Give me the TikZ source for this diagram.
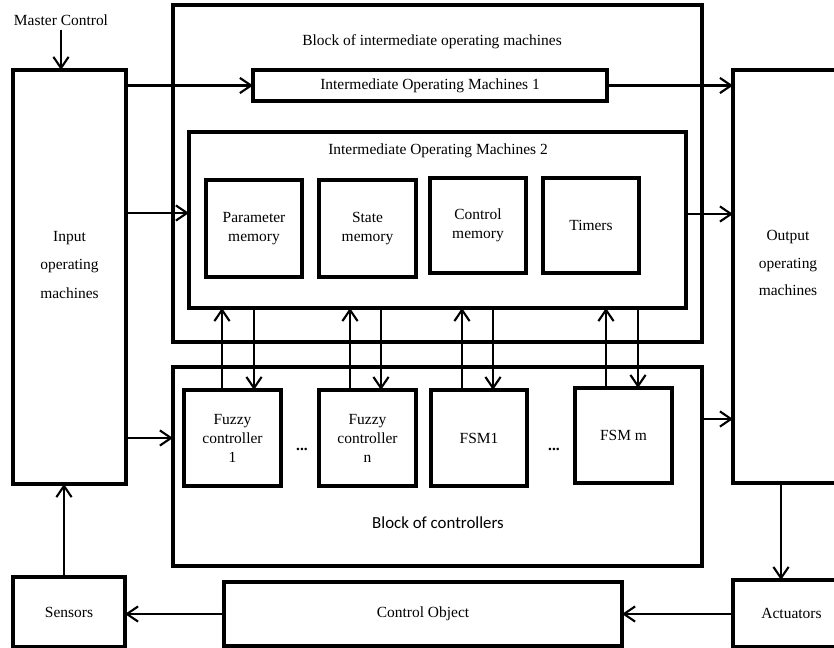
\documentclass[tikz,border=0pt]{standalone}
\usepackage{fontspec}
\setmainfont{Liberation Serif}
\newfontfamily\calib{Carlito}
\usepackage{tikz}
\usetikzlibrary{arrows.meta}

\begin{document}
\begin{tikzpicture}[x=0.025cm,y=-0.025cm,
  box/.style={draw,line width=2.4pt,inner sep=0pt,outer sep=0pt,align=center,font=\fontsize{11}{13.5}\selectfont},
  txt/.style={inner sep=0pt,align=center,font=\fontsize{11}{13.5}\selectfont},
  arr/.style={line width=1.5pt,-{Straight Barb[length=2.8mm,width=3.8mm,line width=1.5pt]}}]
\useasboundingbox (0,0) rectangle (834,648);

 \node[box,minimum width=2.825cm,minimum height=10.35cm] (inp) at (69.5,277) {};
 \node[txt] (inptext) at (69.5,265) {Input\\[7pt] operating\\[7pt] machines};
 \node[box,minimum width=2.925cm,minimum height=10.325cm] (outp) at (791.5,276.5) {};
 \node[txt] (outptext) at (788,263) {Output\\[6pt] operating\\[6pt] machines};
 \node[txt] (mc) at (61,20) {Master Control};

\node[box,minimum width=13.225cm,minimum height=8.425cm] (iomblk) at (437.5,173.5) {};
  \node[txt] (iomtitle) at (432,42) {Block of intermediate operating machines};
  \node[box,minimum width=8.85cm,minimum height=0.775cm] (iom1) at (430,85.5) {Intermediate Operating Machines 1};
  \node[box,minimum width=12.425cm,minimum height=4.4cm] (iom2) at (437.5,220) {};
  \node[txt] (iom2title) at (438,151) {Intermediate Operating Machines 2};
   \node[box,minimum width=2.4cm,minimum height=2.425cm] (pmem) at (254,228.5) {Parameter\\memory};
   \node[box,minimum width=2.425cm,minimum height=2.425cm] (smem) at (367.5,228.5) {State\\memory};
   \node[box,minimum width=2.4cm,minimum height=2.375cm] (cmem) at (478,225.5) {Control\\memory};
   \node[box,minimum width=2.4cm,minimum height=2.375cm] (tmr) at (591,225.5) {Timers};

\node[box,minimum width=13.225cm,minimum height=4.975cm] (ctrlblk) at (437.5,466.5) {};
  \node[txt,font=\calib\fontsize{12}{14}\selectfont] (ctrltitle) at (438,523) {Block of controllers};
   \node[box,minimum width=2.425cm,minimum height=2.4cm] (fz1) at (232.5,438) {Fuzzy\\controller\\1};
   \node[box,minimum width=2.425cm,minimum height=2.4cm] (fzn) at (367.5,438) {Fuzzy\\controller\\n};
   \node[box,minimum width=2.4cm,minimum height=2.4cm] (fsm1) at (479,438) {FSM1};
   \node[box,minimum width=2.425cm,minimum height=2.375cm] (fsmm) at (623.5,435.5) {FSM m};
   \node[txt,font=\bfseries\fontsize{11}{13.5}\selectfont] (dots1) at (302,449) {...};
   \node[txt,font=\bfseries\fontsize{11}{13.5}\selectfont] (dots2) at (554,449) {...};

 \node[box,minimum width=2.8cm,minimum height=1.75cm] (sens) at (69,612) {Sensors};
 \node[box,minimum width=9.95cm,minimum height=1.6cm] (cobj) at (423,614) {Control Object};
 \node[box,minimum width=2.925cm,minimum height=1.675cm] (act) at (791.5,613.5) {Actuators};

\draw[arr] (mc.south) ++(0,4) -- (mc.south |- inp.north);
\draw[arr] (inp.east |- iom1.west) -- (iom1.west);
\draw[arr] (iom1.east) -- (iom1.east -| outp.west);
\draw[arr] (inp.east |- 0,213) -- (iom2.west |- 0,213);
\draw[arr] (iom2.east |- 0,214) -- (outp.west |- 0,214);
\draw[arr] (inp.east |- fz1) -- (ctrlblk.west |- fz1);
\draw[arr] (ctrlblk.east |- 0,419) -- (outp.west |- 0,419);
\draw[arr] (outp.south -| 781,0) -- (act.north -| 781,0);
\draw[arr] (act.west |- cobj.east) -- (cobj.east);
\draw[arr] (cobj.west) -- (cobj.west -| sens.east);
\draw[arr] (sens.north -| 64,0) -- (inp.south -| 64,0);

\foreach \c/\u/\d in {fz1/222/254, fzn/350/381, fsm1/462/493, fsmm/606/638}{
  \draw[arr] (\c.north -| \u,0) -- (iom2.south -| \u,0);
  \draw[arr] (iom2.south -| \d,0) -- (\c.north -| \d,0);
}

\end{tikzpicture}
\end{document}
